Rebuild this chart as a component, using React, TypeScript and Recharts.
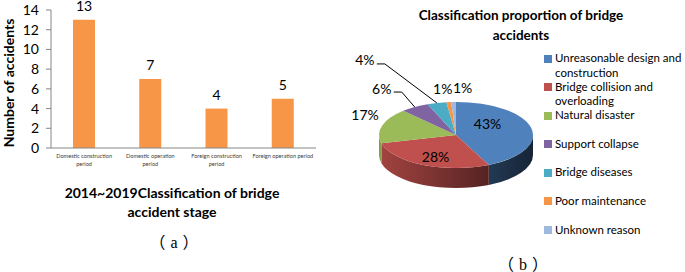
import React from "react";
import { BarChart, Bar, XAxis, YAxis, LabelList, PieChart, Pie, Cell, Legend } from "recharts";

// left: accidents per stage, 2014~2019
const STAGES = [
  "Domestic construction period",
  "Domestic operation period",
  "Foreign construction period",
  "Foreign operation period",
];
const STAGE_TICK_LINES = [
  ["Domestic construction", "period"],
  ["Domestic operation", "period"],
  ["Foreign construction", "period"],
  ["Foreign operation period"],
];
const ACCIDENTS = [13, 7, 4, 5];
const Y_TICKS = [0, 2, 4, 6, 8, 10, 12, 14];
const BAR_TITLE = ["2014~2019Classification of bridge", "accident stage"];

// right: share of causes (%)
const CAUSES = [
  "Unreasonable design and construction",
  "Bridge collision and overloading",
  "Natural disaster",
  "Support collapse",
  "Bridge diseases",
  "Poor maintenance",
  "Unknown reason",
];
const SHARES = [43, 28, 17, 6, 4, 1, 1];
const CAUSE_COLORS = ["#4F81BD", "#C0504D", "#9BBB59", "#8064A2", "#4BACC6", "#F79646", "#9DB9E0"];
const PIE_TITLE = ["Classification proportion of bridge", "accidents"];

const barData = STAGES.map((stage, i) => ({ stage, accidents: ACCIDENTS[i] }));
const pieData = CAUSES.map((name, i) => ({ name, value: SHARES[i] }));

const FONT = "Lato, 'Noto Sans', sans-serif";
const TILT = 0.43;
const DEPTH = 20;
const RAD = Math.PI / 180;

// where each pie label sits: k = fraction of radius, then nudged
const PIE_LABEL_POS = [
  { k: 0.5, dx: -6, dy: -8, leader: false },
  { k: 0.5, dx: -4, dy: 7, leader: false },
  { k: 1, dx: -17, dy: -11, leader: false },
  { k: 1, dx: -33, dy: -19, leader: true },
  { k: 1, dx: -72, dy: -43, leader: true },
  { k: 1, dx: -6, dy: -14, leader: false },
  { k: 1, dx: 9, dy: -14, leader: false },
];

function shade(hex: string, f: number) {
  const n = parseInt(hex.slice(1), 16);
  const r = Math.round(((n >> 16) & 255) * f);
  const g = Math.round(((n >> 8) & 255) * f);
  const b = Math.round((n & 255) * f);
  return `rgb(${r},${g},${b})`;
}

function StageTick(props: any) {
  const { x, y, index } = props;
  const lines = STAGE_TICK_LINES[index] ?? [props.payload.value];
  return (
    <text x={x} y={y} textAnchor="middle" fontSize={5.6} fill="#404040" fontFamily={FONT}>
      {lines.map((l, i) => (
        <tspan key={i} x={x} dy={i === 0 ? 2 : 8}>
          {l}
        </tspan>
      ))}
    </text>
  );
}

function YTitle(props: any) {
  const vb = props.viewBox || { x: 0, y: 10, width: 51, height: 138 };
  const x = vb.x + 8;
  const y = vb.y + vb.height / 2 + 4;
  return (
    <text
      x={x}
      y={y}
      transform={`rotate(-90 ${x} ${y})`}
      textAnchor="middle"
      dominantBaseline="central"
      fontSize={14}
      fontWeight={700}
      fontFamily={FONT}
      fill="#000"
    >
      Number of accidents
    </text>
  );
}

function Slice3D(props: any) {
  const { cx, cy, outerRadius, startAngle, endAngle, fill } = props;
  const rx = outerRadius;
  const ry = outerRadius * TILT;
  const pt = (a: number, d = 0) => [cx + rx * Math.cos(a * RAD), cy - ry * Math.sin(a * RAD) + d];
  const s = Math.max(startAngle, endAngle);
  const e = Math.min(startAngle, endAngle);
  const [sx, sy] = pt(s);
  const [ex, ey] = pt(e);
  const large = s - e > 180 ? 1 : 0;
  const top = `M${cx},${cy} L${sx},${sy} A${rx},${ry} 0 ${large} 1 ${ex},${ey} Z`;

  // front wall: only angles between -180 and 0 face the viewer
  const b2 = Math.min(s, 0);
  const b1 = Math.max(e, -180);
  const id = "side" + String(fill).replace("#", "");
  let side = null;
  if (b2 > b1) {
    const [ax, ay] = pt(b2);
    const [bx, by] = pt(b1);
    side = (
      <path
        d={`M${ax},${ay} A${rx},${ry} 0 0 1 ${bx},${by} L${bx},${by + DEPTH} A${rx},${ry} 0 0 0 ${ax},${ay + DEPTH} Z`}
        fill={`url(#${id})`}
      />
    );
  }
  return (
    <g>
      <defs>
        <linearGradient id={id} gradientUnits="userSpaceOnUse" x1={cx - rx} y1={0} x2={cx + rx} y2={0}>
          <stop offset="0" stopColor={shade(fill, 0.85)} />
          <stop offset="1" stopColor={shade(fill, 0.28)} />
        </linearGradient>
      </defs>
      {side}
      <path d={top} fill={fill} />
    </g>
  );
}

function PieLabel(props: any) {
  const { cx, cy, outerRadius, midAngle, index, value } = props;
  const pos = PIE_LABEL_POS[index];
  const rx = outerRadius;
  const ry = outerRadius * TILT;
  const ex = cx + rx * Math.cos(midAngle * RAD);
  const ey = cy - ry * Math.sin(midAngle * RAD);
  const lx = cx + pos.k * rx * Math.cos(midAngle * RAD) + pos.dx;
  const ly = cy - pos.k * ry * Math.sin(midAngle * RAD) + pos.dy;
  return (
    <g>
      {pos.leader && (
        <polyline
          points={`${lx + 12},${ly + 4} ${lx + 20},${ly + 4} ${ex},${ey}`}
          fill="none"
          stroke="#000"
          strokeWidth={1}
        />
      )}
      <text
        x={lx}
        y={ly}
        textAnchor="middle"
        dominantBaseline="central"
        fontSize={14}
        fontFamily={FONT}
        fill="#000"
      >
        {value}%
      </text>
    </g>
  );
}

// legend keeps the data order (recharts would sort it by name)
function CauseLegend() {
  return (
    <div style={{ fontFamily: FONT, fontSize: 11.5, color: "#000" }}>
      {CAUSES.map((name, i) => (
        <div key={name} style={{ display: "flex", alignItems: "flex-start", height: 28.6 }}>
          <span
            style={{
              display: "inline-block",
              width: 8,
              height: 8,
              marginTop: 3.5,
              marginRight: 3,
              flex: "none",
              background: CAUSE_COLORS[i],
            }}
          />
          <span style={{ lineHeight: "14.5px", width: 131 }}>{name}</span>
        </div>
      ))}
    </div>
  );
}

const parenFont = "'Noto Sans CJK SC', serif";
const letterFont = "'Liberation Serif', serif";

function Caption({ letter, left, top }: { letter: string; left: number; top: number }) {
  return (
    <div
      style={{
        position: "absolute",
        left,
        top,
        width: 100,
        textAlign: "center",
        fontSize: 16,
        lineHeight: "22px",
        whiteSpace: "nowrap",
      }}
    >
      <span style={{ fontFamily: parenFont }}>（</span>
      <span style={{ fontFamily: letterFont, margin: "0 5px" }}>{letter}</span>
      <span style={{ fontFamily: parenFont }}>）</span>
    </div>
  );
}

export default function App() {
  return (
    <div style={{ position: "absolute", left: 0, top: 0, width: 685, height: 272, background: "#fff", overflow: "hidden" }}>
      <div style={{ position: "absolute", left: 0, top: 0 }}>
        <BarChart width={330} height={180} data={barData} margin={{ top: 10, right: 14, bottom: 0, left: 0 }} barSize={22}>
          <YAxis
            width={51}
            domain={[0, 14]}
            ticks={Y_TICKS}
            interval={0}
            tickSize={5}
            tickMargin={7}
            axisLine={{ stroke: "#868686" }}
            tickLine={{ stroke: "#868686" }}
            tick={{ fontSize: 14, fill: "#000", fontFamily: FONT }}
            label={<YTitle />}
          />
          <XAxis
            dataKey="stage"
            height={32}
            interval={0}
            tickLine={false}
            axisLine={{ stroke: "#868686" }}
            tick={<StageTick />}
          />
          <Bar dataKey="accidents" fill="#F79646" isAnimationActive={false}>
            <LabelList dataKey="accidents" position="top" offset={9} fontSize={14} fill="#000" fontFamily={FONT} />
          </Bar>
        </BarChart>
      </div>

      <div
        style={{
          position: "absolute",
          left: 0,
          top: 183,
          width: 344,
          textAlign: "center",
          fontFamily: FONT,
          fontWeight: 700,
          fontSize: 14,
          lineHeight: "19px",
        }}
      >
        {BAR_TITLE.map((l) => (
          <div key={l}>{l}</div>
        ))}
      </div>
      <Caption letter="a" left={124} top={230} />

      <div
        style={{
          position: "absolute",
          left: 400,
          top: 5,
          width: 242,
          textAlign: "center",
          fontFamily: FONT,
          fontWeight: 700,
          fontSize: 13.5,
          lineHeight: "20px",
        }}
      >
        {PIE_TITLE.map((l) => (
          <div key={l}>{l}</div>
        ))}
      </div>

      <div style={{ position: "absolute", left: 340, top: 0 }}>
        <PieChart width={345} height={272} margin={{ top: 0, right: 0, bottom: 0, left: 0 }}>
          <Pie
            data={pieData}
            dataKey="value"
            nameKey="name"
            cx={116}
            cy={135}
            outerRadius={77}
            startAngle={90}
            endAngle={-270}
            stroke="none"
            shape={Slice3D}
            label={PieLabel}
            labelLine={false}
            isAnimationActive={false}
          >
            {pieData.map((d, i) => (
              <Cell key={d.name} fill={CAUSE_COLORS[i]} />
            ))}
          </Pie>
          <Legend
            layout="vertical"
            align="right"
            verticalAlign="top"
            content={<CauseLegend />}
            wrapperStyle={{ left: 204, top: 51, width: 141 }}
          />
        </PieChart>
      </div>

      <Caption letter="b" left={473} top={252} />
    </div>
  );
}
